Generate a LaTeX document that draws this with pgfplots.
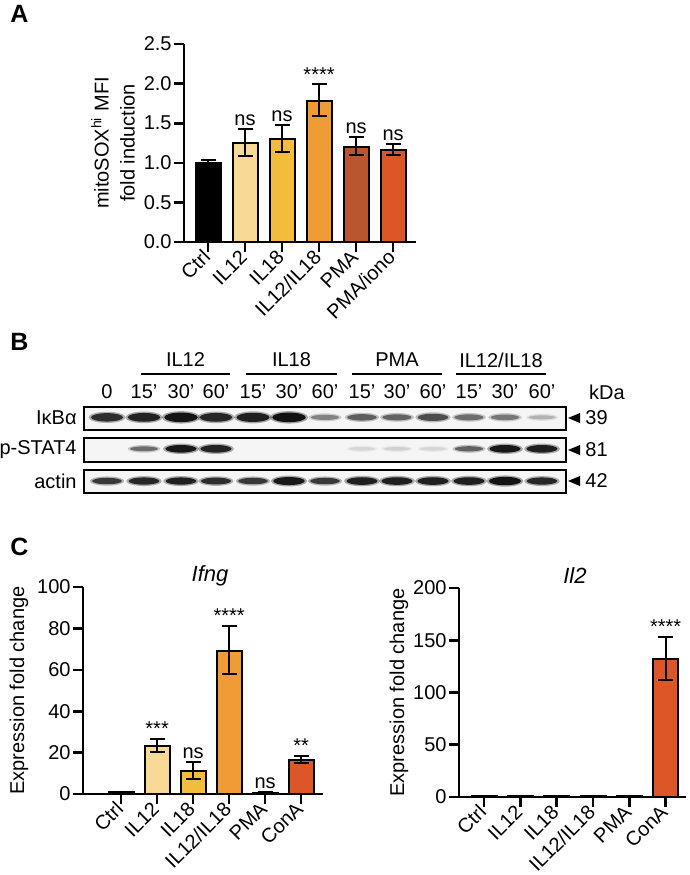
\documentclass[border=0pt]{standalone}
\usepackage{fontspec}
\setmainfont{Liberation Sans}
\usepackage{pgfplots}
\pgfplotsset{compat=1.18}

\definecolor{cpale}{HTML}{F8D995}
\definecolor{cyel}{HTML}{F2BD3C}
\definecolor{corg}{HTML}{EF9B36}
\definecolor{cbrown}{HTML}{B9562F}
\definecolor{cred}{HTML}{DC5627}

\newcommand\ten{\fontsize{10}{13}\selectfont}
\newcommand\panel{\bfseries\fontsize{12.5}{14}\selectfont}

% soft western-blot band, height = mark size
\pgfdeclareplotmark{band}{%
  \pgfmathsetlengthmacro\bandw{5.5pt+1.2*\pgfplotmarksize}%
  \pgfsetfillopacity{0.35}%
  \pgfpathellipse{\pgfpointorigin}{\pgfpoint{\bandw+1.2pt}{0pt}}{\pgfpoint{0pt}{\pgfplotmarksize+0.7pt}}%
  \pgfusepathqfill
  \pgfsetfillopacity{1}%
  \pgfpathellipse{\pgfpointorigin}{\pgfpoint{\bandw}{0pt}}{\pgfpoint{0pt}{\pgfplotmarksize}}%
  \pgfusepathqfill}

\pgfplotsset{
  /pgf/number format/assume math mode=true,
  prism/.style={
    scale only axis, anchor=south west,
    axis lines=left, axis line style={-, line width=1.3pt},
    tick align=outside, major tick length=5pt,
    tick style={line width=1.3pt, black},
    xtick={0,...,5},
    ticklabel style={font=\ten},
    yticklabel style={inner sep=1pt},
    xticklabel style={rotate=45, anchor=east, inner sep=1pt},
    ylabel style={font=\ten, align=center},
    ymin=0, clip=false,
  },
  pbar/.style={ybar, bar width=12.5pt, draw=black, line width=1pt,
    error bars/y dir=both, error bars/y explicit,
    error bars/error bar style={line width=1pt, black},
    error bars/error mark options={rotate=90, mark size=3.75pt, line width=1pt, black}},
  star/.style={draw=none, mark=none, nodes near coords, point meta=explicit symbolic,
    nodes near coords style={anchor=south, font=\ten, inner sep=1.5pt, text=black}},
  blot/.style={scale only axis, anchor=south west, width=241pt, height=11.5pt,
    xmin=84, xmax=566, ymin=0, ymax=1, xtick=\empty, ytick=\empty,
    axis line style={line width=1.2pt},
    axis background/.style={fill=black!4},
    colormap={blotmap}{gray(0cm)=(0.88) gray(1cm)=(0.06)},
    point meta min=0, point meta max=1},
  bands/.style={scatter, only marks, mark=band, point meta=explicit,
    scatter/use mapped color={draw=none, fill=mapped color},
    visualization depends on={\thisrow{h}\as\hh},
    scatter/@pre marker code/.append style={/tikz/mark size=\hh pt}},
}

\begin{document}
\begin{tikzpicture}[x=0.5pt, y=-0.5pt]
\path[use as bounding box] (0,0) rectangle (690,875);

% ---------------- A ----------------
\node[anchor=north west, inner sep=0pt, font=\panel] at (10,5) {A};
\begin{axis}[prism, at={(92pt,-121pt)}, width=116pt, height=99pt,
  xmin=-0.65, xmax=5.62, ymax=2.5, ytick={0,0.5,...,2.5},
  yticklabel style={/pgf/number format/.cd, fixed, fixed zerofill, precision=1},
  xticklabels={Ctrl,IL12,IL18,IL12/IL18,PMA,PMA/iono},
  ylabel={mitoSOX\textsuperscript{hi} MFI\\fold induction}]
\addplot[pbar, fill=black] coordinates {(0,1.00) += (0,0.03) -= (0,0.03)};
\addplot[pbar, fill=cpale] coordinates {(1,1.25) += (0,0.18) -= (0,0.17)};
\addplot[pbar, fill=cyel] coordinates {(2,1.30) += (0,0.18) -= (0,0.16)};
\addplot[pbar, fill=corg] coordinates {(3,1.78) += (0,0.21) -= (0,0.19)};
\addplot[pbar, fill=cbrown] coordinates {(4,1.20) += (0,0.12) -= (0,0.10)};
\addplot[pbar, fill=cred] coordinates {(5,1.16) += (0,0.08) -= (0,0.06)};
\addplot[star] coordinates {(1,1.43) [ns] (2,1.48) [ns] (3,1.99) [****] (4,1.32) [ns] (5,1.24) [ns]};
\end{axis}

% ---------------- B ----------------
\node[anchor=north west, inner sep=0pt, font=\panel] at (10,333) {B};
\begin{scope}[font=\ten]
\foreach \xa/\xb/\t in {141/230/{IL12}, 246/337/{IL18}, 352/442/{PMA}, 456/546/{IL12/IL18}} {
  \draw[line width=1.2pt] (\xa,374) -- (\xb,374);
  \node at ({(\xa+\xb)/2},360) {\t};
}
\foreach \x/\t in {107/0, 144/15’, 181/30’, 216/60’, 253/15’, 289/30’, 325/60’,
                   362/15’, 397/30’, 433/60’, 469/15’, 505/30’, 542/60’} {
  \node at (\x,392) {\t};
}
\node[anchor=west] at (582,392) {kDa};
\foreach \y/\l/\k in {418/IκBα/39, 450/p-STAT4/81, 481/actin/42} {
  \node[anchor=east, inner sep=1pt] at (79,\y) {\l};
  \fill (568,\y) -- (580,\y-5) -- (580,\y+5) -- cycle;
  \node[anchor=west, inner sep=1pt] at (583,\y) {\k};
}
\end{scope}

\begin{axis}[blot, at={(42pt,-215pt)}]
\addplot[bands] table[x=x, y=y, meta=i] {
x   y    i    h
107 0.55 0.85 2.1
144 0.55 0.90 2.2
181 0.55 0.97 2.4
216 0.55 0.88 2.2
253 0.55 0.92 2.3
289 0.55 0.98 2.4
325 0.55 0.45 1.3
362 0.55 0.62 1.6
397 0.55 0.60 1.5
433 0.55 0.70 1.8
469 0.55 0.55 1.5
505 0.55 0.50 1.4
542 0.55 0.22 1.0
};
\end{axis}
\begin{axis}[blot, at={(42pt,-231pt)}, height=12pt]
\addplot[bands] table[x=x, y=y, meta=i] {
x   y    i    h
144 0.55 0.55 1.2
181 0.55 0.95 1.9
216 0.55 0.90 1.9
362 0.55 0.05 0.9
397 0.55 0.08 0.9
433 0.55 0.05 0.9
469 0.55 0.60 1.3
505 0.55 0.95 1.9
542 0.55 0.92 1.9
};
\end{axis}
\begin{axis}[blot, at={(42pt,-246.5pt)}]
\addplot[bands] table[x=x, y=y, meta=i] {
x   y    i    h
107 0.52 0.80 1.6
144 0.52 0.88 1.8
181 0.52 0.92 1.8
216 0.52 0.85 1.7
253 0.52 0.80 1.6
289 0.52 0.95 2.0
325 0.52 0.80 1.6
362 0.52 0.92 1.9
397 0.52 0.92 1.9
433 0.52 0.92 1.9
469 0.52 0.92 1.9
505 0.52 0.97 2.1
542 0.52 0.88 1.8
};
\end{axis}

% ---------------- C ----------------
\node[anchor=north west, inner sep=0pt, font=\panel] at (10,538) {C};
\node[font=\itshape\fontsize{11}{13}\selectfont] at (210,576) {Ifng};
\node[font=\itshape\fontsize{11}{13}\selectfont] at (575,576) {Il2};

\begin{axis}[prism, at={(41.5pt,-397pt)}, width=120pt, height=103.5pt,
  xmin=-1.06, xmax=5.61, ymax=100, ytick={0,20,...,100},
  xticklabels={Ctrl,IL12,IL18,IL12/IL18,PMA,ConA},
  ylabel={Expression fold change}]
\addplot[pbar, fill=black] coordinates {(0,0.8) += (0,0.3) -= (0,0.3)};
\addplot[pbar, fill=cpale] coordinates {(1,23.3) += (0,3.3) -= (0,3.0)};
\addplot[pbar, fill=cyel] coordinates {(2,11.0) += (0,4.5) -= (0,3.7)};
\addplot[pbar, fill=corg] coordinates {(3,69.0) += (0,12.0) -= (0,11.0)};
\addplot[pbar, fill=cbrown] coordinates {(4,0.6) += (0,0.3) -= (0,0.3)};
\addplot[pbar, fill=cred] coordinates {(5,16.2) += (0,2.2) -= (0,1.1)};
\addplot[star] coordinates {(1,26.6) [***] (2,15.5) [ns] (3,81.0) [****] (4,1.0) [ns] (5,18.4) [**]};
\end{axis}

\begin{axis}[prism, at={(229.5pt,-398.5pt)}, width=113.5pt, height=104.5pt,
  xmin=-0.69, xmax=5.56, ymax=200, ytick={0,50,...,200},
  xticklabels={Ctrl,IL12,IL18,IL12/IL18,PMA,ConA},
  ylabel={Expression fold change}, ylabel shift=-2pt]
\addplot[pbar, fill=black] coordinates {(0,1.0) += (0,0.3) -= (0,0.3)};
\addplot[pbar, fill=cpale] coordinates {(1,0.6) += (0,0.2) -= (0,0.2)};
\addplot[pbar, fill=cyel] coordinates {(2,0.7) += (0,0.2) -= (0,0.2)};
\addplot[pbar, fill=corg] coordinates {(3,0.8) += (0,0.3) -= (0,0.3)};
\addplot[pbar, fill=cbrown] coordinates {(4,1.0) += (0,0.3) -= (0,0.3)};
\addplot[pbar, fill=cred] coordinates {(5,132.0) += (0,21.0) -= (0,20.0)};
\addplot[star] coordinates {(5,153.0) [****]};
\end{axis}
\end{tikzpicture}
\end{document}
